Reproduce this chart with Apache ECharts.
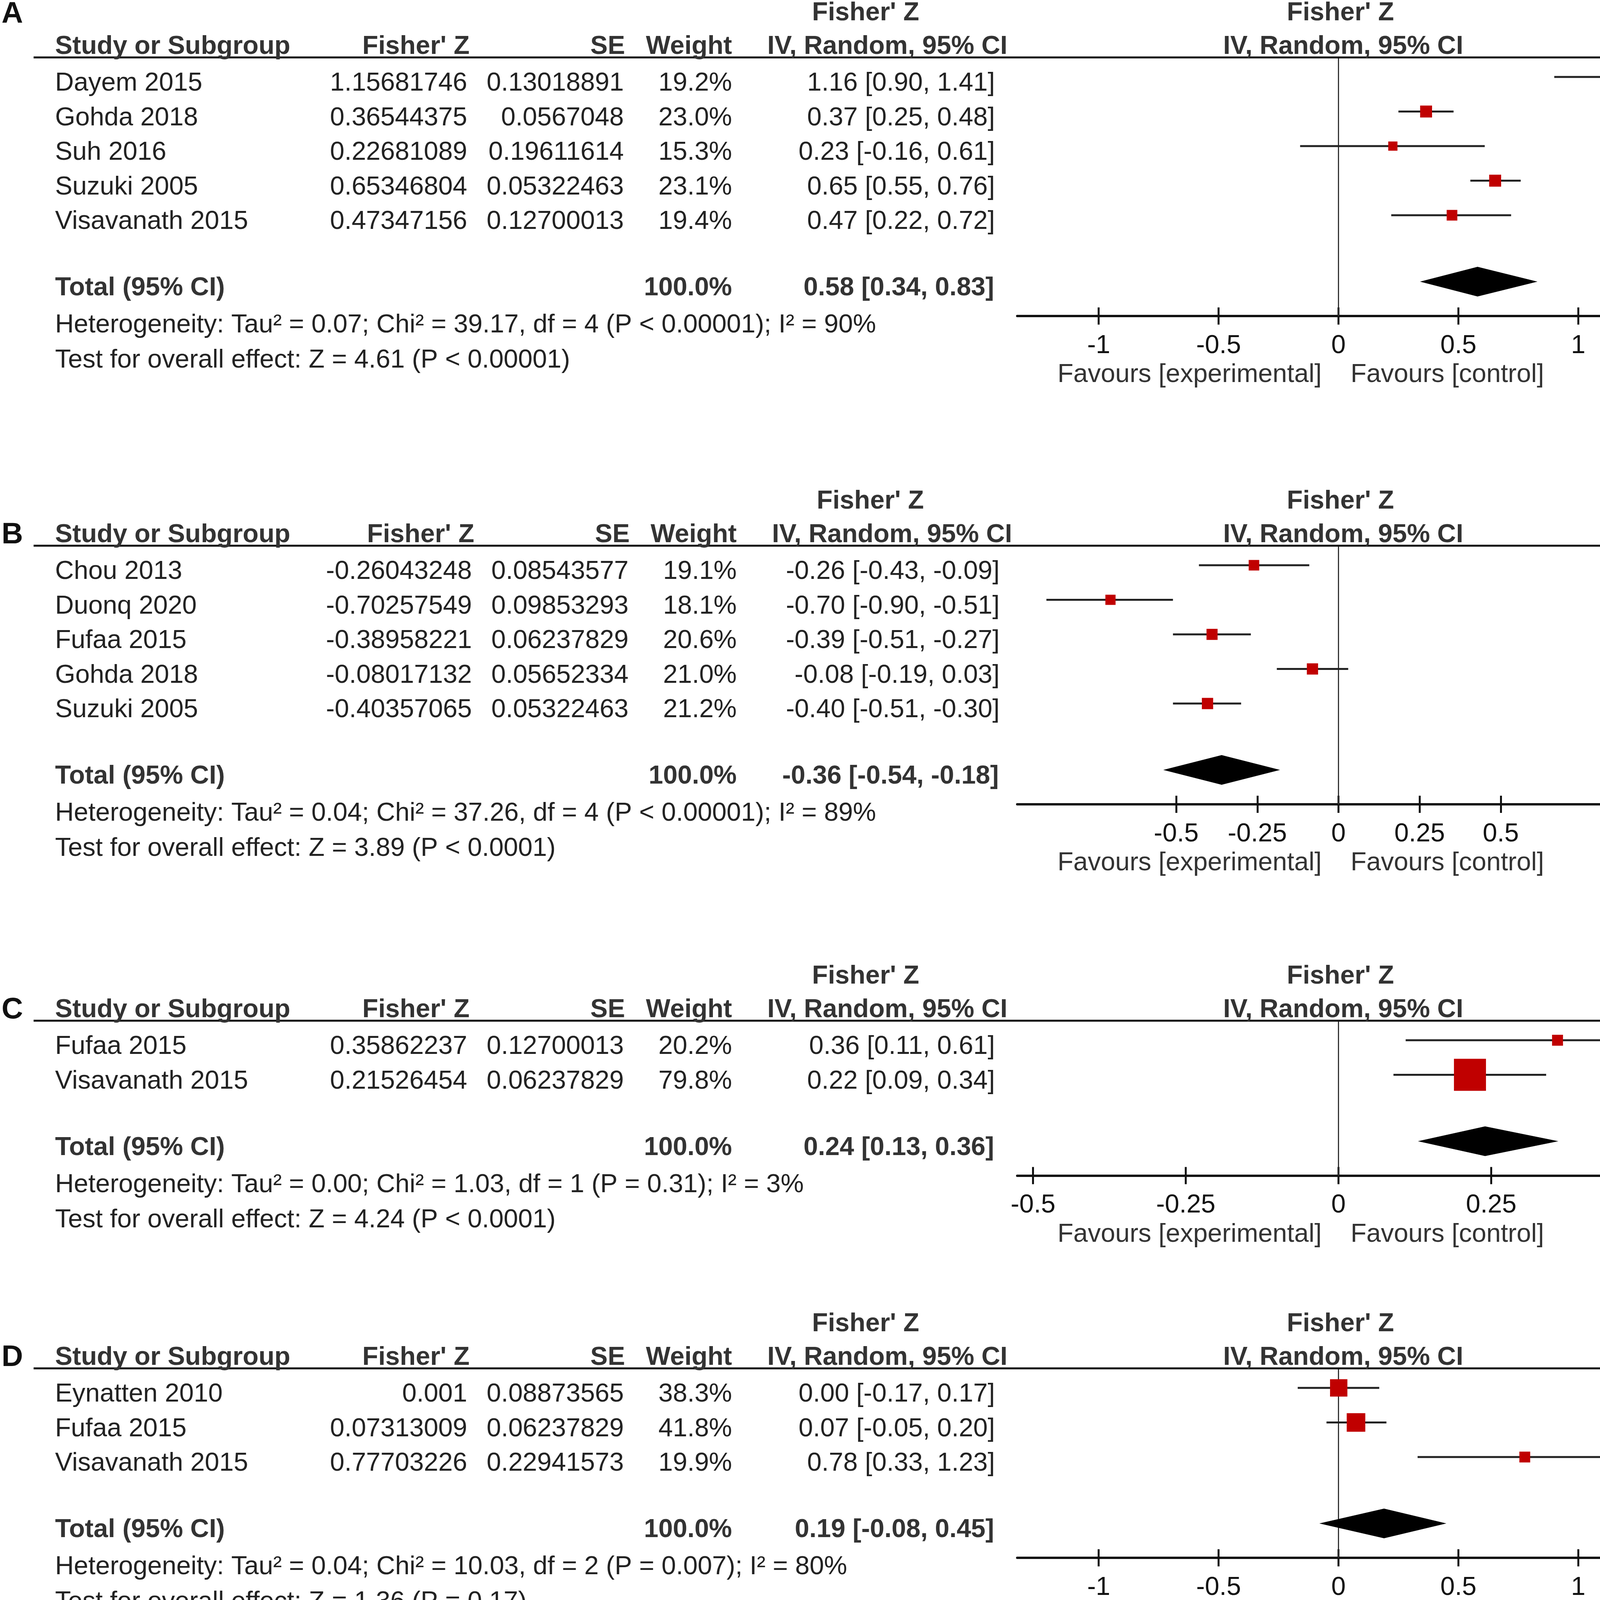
<!DOCTYPE html>
<html><head><meta charset="utf-8">
<script src="https://cdn.jsdelivr.net/npm/echarts@6/dist/echarts.min.js"></script>
<style>html,body{margin:0;padding:0;background:#fff;overflow:hidden}#c{width:4317px;height:5216px}</style>
</head><body><div id="c"></div><script>
// ---------------- DATA ----------------
const panelLetters = ['A', 'B', 'C', 'D', 'E'];

const studiesA = ['Dayem 2015', 'Gohda 2018', 'Suh 2016', 'Suzuki 2005', 'Visavanath 2015'];
const fisherZA = [1.15681746, 0.36544375, 0.22681089, 0.65346804, 0.47347156];
const seA = [0.13018891, 0.0567048, 0.19611614, 0.05322463, 0.12700013];
const weightA = [19.2, 23.0, 15.3, 23.1, 19.4];
const ciLowA = [0.90, 0.25, -0.16, 0.55, 0.22];
const ciHighA = [1.41, 0.48, 0.61, 0.76, 0.72];
const totalA = [0.58, 0.34, 0.83];
const hetA = 'Heterogeneity: Tau² = 0.07; Chi² = 39.17, df = 4 (P < 0.00001); I² = 90%';
const testA = 'Test for overall effect: Z = 4.61 (P < 0.00001)';
const axisMaxA = 1.34;
const ticksA = [-1, -0.5, 0, 0.5, 1];

const studiesB = ['Chou 2013', 'Duonq 2020', 'Fufaa 2015', 'Gohda 2018', 'Suzuki 2005'];
const fisherZB = [-0.26043248, -0.70257549, -0.38958221, -0.08017132, -0.40357065];
const seB = [0.08543577, 0.09853293, 0.06237829, 0.05652334, 0.05322463];
const weightB = [19.1, 18.1, 20.6, 21.0, 21.2];
const ciLowB = [-0.43, -0.90, -0.51, -0.19, -0.51];
const ciHighB = [-0.09, -0.51, -0.27, 0.03, -0.30];
const totalB = [-0.36, -0.54, -0.18];
const hetB = 'Heterogeneity: Tau² = 0.04; Chi² = 37.26, df = 4 (P < 0.00001); I² = 89%';
const testB = 'Test for overall effect: Z = 3.89 (P < 0.0001)';
const axisMaxB = 0.99;
const ticksB = [-0.5, -0.25, 0, 0.25, 0.5];

const studiesC = ['Fufaa 2015', 'Visavanath 2015'];
const fisherZC = [0.35862237, 0.21526454];
const seC = [0.12700013, 0.06237829];
const weightC = [20.2, 79.8];
const ciLowC = [0.11, 0.09];
const ciHighC = [0.61, 0.34];
const totalC = [0.24, 0.13, 0.36];
const hetC = 'Heterogeneity: Tau² = 0.00; Chi² = 1.03, df = 1 (P = 0.31); I² = 3%';
const testC = 'Test for overall effect: Z = 4.24 (P < 0.0001)';
const axisMaxC = 0.526;
const ticksC = [-0.5, -0.25, 0, 0.25, 0.5];

const studiesD = ['Eynatten 2010', 'Fufaa 2015', 'Visavanath 2015'];
const fisherZD = [0.001, 0.07313009, 0.77703226];
const seD = [0.08873565, 0.06237829, 0.22941573];
const weightD = [38.3, 41.8, 19.9];
const ciLowD = [-0.17, -0.05, 0.33];
const ciHighD = [0.17, 0.20, 1.23];
const totalD = [0.19, -0.08, 0.45];
const hetD = 'Heterogeneity: Tau² = 0.04; Chi² = 10.03, df = 2 (P = 0.007); I² = 80%';
const testD = 'Test for overall effect: Z = 1.36 (P = 0.17)';
const axisMaxD = 1.34;
const ticksD = [-1, -0.5, 0, 0.5, 1];

const studiesE = ['Eynatten 2010', 'Visavanath 2015'];
const fisherZE = [0.10134555, 0.64604283];
const seE = [0.08873565, 0.22941573];
const weightE = [57.5, 42.5];
const ciLowE = [-0.07, 0.20];
const ciHighE = [0.28, 1.10];
const totalE = [0.33, -0.20, 0.86];
const hetE = 'Heterogeneity: Tau² = 0.12; Chi² = 4.90, df = 1 (P = 0.03); I² = 80%';
const testE = 'Test for overall effect: Z = 1.24 (P = 0.22)';
const axisMaxE = 1.49;
const ticksE = [-1, -0.5, 0, 0.5, 1];

const panels = [
  {studies: studiesA, z: fisherZA, se: seA, w: weightA, lo: ciLowA, hi: ciHighA, total: totalA, het: hetA, test: testA, axisMax: axisMaxA, ticks: ticksA},
  {studies: studiesB, z: fisherZB, se: seB, w: weightB, lo: ciLowB, hi: ciHighB, total: totalB, het: hetB, test: testB, axisMax: axisMaxB, ticks: ticksB},
  {studies: studiesC, z: fisherZC, se: seC, w: weightC, lo: ciLowC, hi: ciHighC, total: totalC, het: hetC, test: testC, axisMax: axisMaxC, ticks: ticksC},
  {studies: studiesD, z: fisherZD, se: seD, w: weightD, lo: ciLowD, hi: ciHighD, total: totalD, het: hetD, test: testD, axisMax: axisMaxD, ticks: ticksD},
  {studies: studiesE, z: fisherZE, se: seE, w: weightE, lo: ciLowE, hi: ciHighE, total: totalE, het: hetE, test: testE, axisMax: axisMaxE, ticks: ticksE}
];

// ---------------- LAYOUT ----------------
const FONT = 'Liberation Sans, Arial, Helvetica, sans-serif';
const FS = 66.5;
const ROW = 88.5;
const headerY = [120, 1370, 2586, 3476, 4599];
const colShift = [0, 12, 0, 0, 0];
const GRID_LEFT = 2604, GRID_W = 1645;
const ZERO_X = GRID_LEFT + GRID_W / 2;
const BODY = '#222', HEAD = '#333';

function renderCI(params, api) {
  const lo = api.value(0), hi = api.value(1), y = api.value(2);
  const cs = params.coordSys;
  const p1 = api.coord([lo, y]), p2 = api.coord([hi, y]);
  const xmin = cs.x, xmax = cs.x + cs.width;
  const arrowR = p2[0] > xmax + 0.5, arrowL = p1[0] < xmin - 0.5;
  const AL = 24, AH = 21;
  const x1 = arrowL ? xmin + AL - 2 : p1[0];
  const x2 = arrowR ? xmax - AL + 2 : p2[0];
  const children = [{type: 'line', shape: {x1: x1, y1: p1[1], x2: x2, y2: p1[1]}, style: {stroke: '#222', lineWidth: 5}}];
  if (arrowR) children.push({type: 'polygon', shape: {points: [[xmax, p1[1]], [xmax - AL, p1[1] - AH], [xmax - AL, p1[1] + AH]]}, style: {fill: '#333'}});
  if (arrowL) children.push({type: 'polygon', shape: {points: [[xmin, p1[1]], [xmin + AL, p1[1] - AH], [xmin + AL, p1[1] + AH]]}, style: {fill: '#333'}});
  return {type: 'group', children: children};
}

function renderDiamond(params, api) {
  const y = api.value(3);
  const c = api.coord([api.value(0), y]);
  const l = api.coord([api.value(1), y]);
  const r = api.coord([api.value(2), y]);
  const h = 38;
  return {type: 'polygon', shape: {points: [[l[0], c[1]], [c[0], c[1] - h], [r[0], c[1]], [c[0], c[1] + h]]}, style: {fill: '#000'}};
}

const grids = [], xAxes = [], yAxes = [], series = [], graphics = [];

function txt(x, y, s, align, bold, size, color) {
  graphics.push({type: 'text', x: x, y: y, silent: true, z: 10,
    style: {text: s, align: align, verticalAlign: 'middle', fontSize: size || FS, fontFamily: FONT,
      fontWeight: bold ? 'bold' : 'normal', fill: color || BODY}});
}

panels.forEach(function (p, k) {
  const n = p.studies.length;
  const Hc = headerY[k], dx = colShift[k];
  const lineY = Hc + 27;
  const gridH = (n + 2.48) * ROW;
  const axisY = lineY + gridH;

  grids.push({left: GRID_LEFT, top: lineY, width: GRID_W, height: gridH});
  const base = {gridIndex: k, type: 'value', min: -p.axisMax, max: p.axisMax, position: 'bottom', splitLine: {show: false}};
  xAxes.push(Object.assign({}, base, {
    axisLine: {show: true, onZero: false, lineStyle: {color: '#111', width: 6}},
    axisTick: {show: true, customValues: p.ticks, length: 22, lineStyle: {color: '#111', width: 5}},
    axisLabel: {show: true, customValues: p.ticks, margin: 43, fontSize: FS, fontFamily: FONT, color: '#111'}
  }));
  xAxes.push(Object.assign({}, base, {
    axisLine: {show: false, onZero: false},
    axisTick: {show: true, inside: true, customValues: p.ticks, length: 22, lineStyle: {color: '#111', width: 5}},
    axisLabel: {show: false}
  }));
  yAxes.push({gridIndex: k, type: 'value', inverse: true, min: -0.565, max: n + 1.915, show: false, axisLine: {onZero: false}});

  series.push({type: 'custom', xAxisIndex: 2 * k, yAxisIndex: k, z: 2, animation: false, silent: true,
    data: p.lo.map(function (l, i) { return [l, p.hi[i], i]; }),
    encode: {x: [0, 1], y: 2}, renderItem: renderCI});
  series.push({type: 'scatter', xAxisIndex: 2 * k, yAxisIndex: k, z: 6, animation: false, silent: true,
    symbol: 'rect', symbolSize: function (v) { return 9.7 + 0.906 * v[2]; },
    itemStyle: {color: '#C00000', opacity: 1},
    data: p.z.map(function (z, i) { return [z, i, p.w[i]]; }),
    markLine: {silent: true, symbol: 'none', z: 1, animation: false, label: {show: false},
      lineStyle: {color: '#333', width: 3, type: 'solid'}, data: [{xAxis: 0}]}});
  series.push({type: 'custom', xAxisIndex: 2 * k, yAxisIndex: k, z: 6, animation: false, silent: true,
    data: [[p.total[0], p.total[1], p.total[2], n + 0.92]],
    encode: {x: [0, 1, 2], y: 3}, renderItem: renderDiamond});

  graphics.push({type: 'line', silent: true, z: 9, shape: {x1: 86, y1: lineY, x2: 4310, y2: lineY}, style: {stroke: '#111', lineWidth: 5}});

  txt(4, k === 0 ? 37 : Hc, panelLetters[k], 'left', true, 76, '#111');

  txt(2216 + dx, Hc - 86, "Fisher' Z", 'center', true, FS, HEAD);
  txt(ZERO_X + 5, Hc - 86, "Fisher' Z", 'center', true, FS, HEAD);
  txt(141, Hc, 'Study or Subgroup', 'left', true, FS, HEAD);
  txt(1202 + dx, Hc, "Fisher' Z", 'right', true, FS, HEAD);
  txt(1600 + dx, Hc, 'SE', 'right', true, FS, HEAD);
  txt(1874 + dx, Hc, 'Weight', 'right', true, FS, HEAD);
  txt(2579 + dx, Hc, 'IV, Random, 95% CI', 'right', true, FS, HEAD);
  txt(ZERO_X + 12, Hc, 'IV, Random, 95% CI', 'center', true, FS, HEAD);

  p.studies.forEach(function (s, i) {
    const ty = Hc + 94 + i * ROW;
    txt(141, ty, s, 'left');
    txt(1196 + dx, ty, String(p.z[i]), 'right');
    txt(1597 + dx, ty, String(p.se[i]), 'right');
    txt(1874 + dx, ty, p.w[i].toFixed(1) + '%', 'right');
    txt(2547 + dx, ty, p.z[i].toFixed(2) + ' [' + p.lo[i].toFixed(2) + ', ' + p.hi[i].toFixed(2) + ']', 'right');
  });

  const tty = Hc + 94 + (n - 1) * ROW + 170;
  const wsum = p.w.reduce(function (a, b) { return a + b; }, 0);
  txt(141, tty, 'Total (95% CI)', 'left', true, FS, HEAD);
  txt(1874 + dx, tty, wsum.toFixed(1) + '%', 'right', true, FS, HEAD);
  txt(2545 + dx, tty, p.total[0].toFixed(2) + ' [' + p.total[1].toFixed(2) + ', ' + p.total[2].toFixed(2) + ']', 'right', true, FS, HEAD);
  txt(141, tty + 95, p.het, 'left');
  txt(141, tty + 185, p.test, 'left');

  txt(ZERO_X - 43, axisY + 151, 'Favours [experimental]', 'right', false, FS, HEAD);
  txt(ZERO_X + 31, axisY + 151, 'Favours [control]', 'left', false, FS, HEAD);
});

const chart = echarts.init(document.getElementById('c'), null, {renderer: 'canvas'});
chart.setOption({
  animation: false,
  backgroundColor: '#fff',
  grid: grids,
  xAxis: xAxes,
  yAxis: yAxes,
  series: series,
  graphic: graphics
});
</script></body></html>
